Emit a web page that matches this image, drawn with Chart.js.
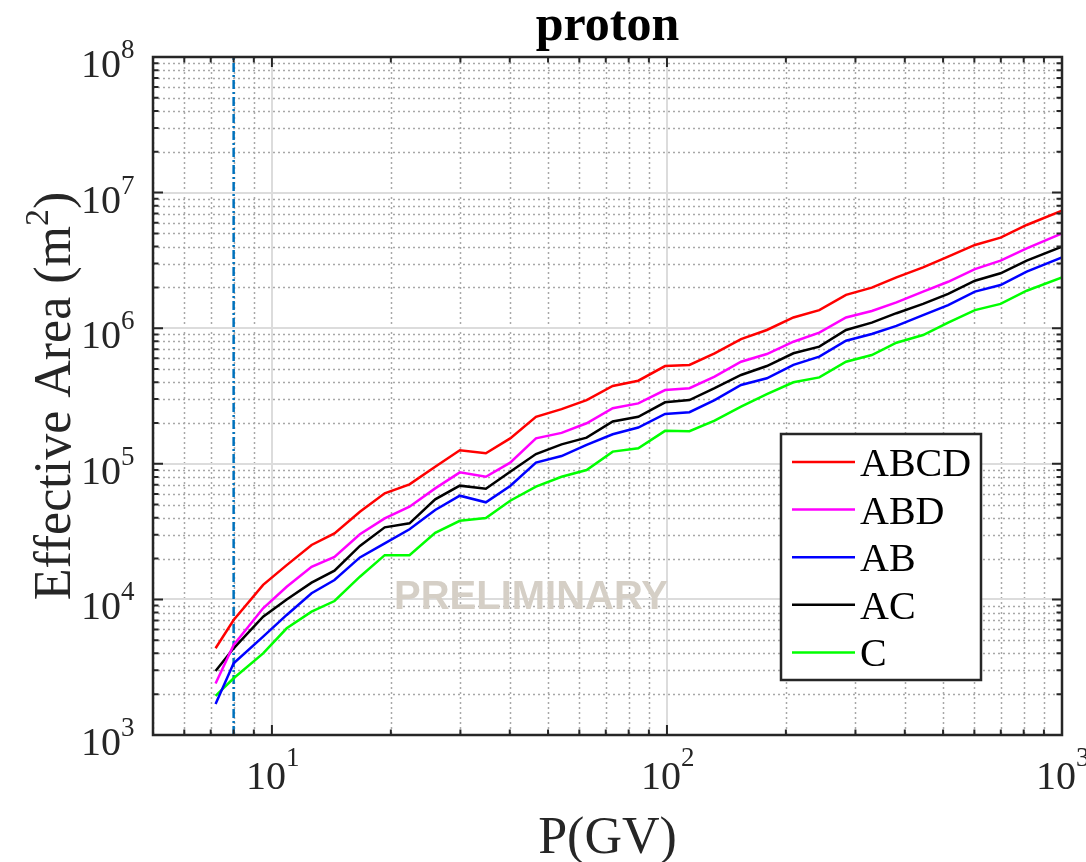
<!DOCTYPE html>
<html>
<head>
<meta charset="utf-8">
<script src="https://cdn.jsdelivr.net/npm/chart.js@4.4.1/dist/chart.umd.min.js"></script>
<style>
  html, body { margin: 0; padding: 0; background: #fff; }
  #wrap { width: 1086px; height: 862px; position: relative; }
</style>
</head>
<body>
<div id="wrap"><canvas id="effArea"></canvas></div>
<script>
// rigidity bins (GV)
const rigidity = [7.2, 8, 9.5, 10.9, 12.6, 14.4, 16.7, 19.3, 22.3, 25.9,
  29.9, 34.8, 40.1, 46.6, 54.1, 62.6, 72.9, 84.6, 98.9, 114,
  132, 154, 179, 209, 243, 284, 330, 381, 445, 515,
  602, 699, 814, 1000]

// effective area (m^2) per trigger combination
const areaABCD = [4360, 7050, 12800, 17900, 25200, 30700, 44300, 60600, 70600, 95200,
  126000, 119500, 154000, 222000, 253000, 295000, 375000, 410000, 526000, 536000,
  653000, 832000, 970000, 1200000, 1360000, 1760000, 1990000, 2370000, 2810000, 3370000,
  4110000, 4650000, 5770000, 7360000]
const areaABD = [2400, 4610, 8600, 12400, 17400, 20600, 30200, 39600, 48300, 65900,
  86500, 80300, 102000, 154000, 169000, 199000, 257000, 279000, 350000, 361000,
  439000, 566000, 645000, 795000, 927000, 1200000, 1340000, 1550000, 1860000, 2200000,
  2730000, 3150000, 3880000, 5010000]
const areaAB = [1690, 3380, 5310, 7680, 11100, 13900, 20400, 25900, 32900, 45600,
  58200, 52000, 68600, 102000, 114000, 138000, 165000, 185000, 233000, 240000,
  295000, 381000, 427000, 536000, 617000, 809000, 906000, 1040000, 1250000, 1480000,
  1860000, 2080000, 2610000, 3330000]
const areaAC = [2960, 4360, 7460, 10000, 13300, 16300, 24800, 34000, 36400, 54700,
  69000, 65500, 87500, 118000, 139000, 156000, 205000, 222000, 284000, 295000,
  361000, 452000, 526000, 653000, 731000, 970000, 1100000, 1290000, 1510000, 1790000,
  2240000, 2540000, 3150000, 3990000]
const areaC = [1940, 2620, 4000, 6120, 8120, 9730, 14700, 21200, 21200, 31000,
  38000, 39800, 53400, 67800, 80300, 90000, 123000, 130000, 175000, 174000,
  208000, 264000, 327000, 399000, 434000, 566000, 634000, 782000, 891000, 1100000,
  1360000, 1510000, 1890000, 2370000]

const seriesLabels = ['ABCD', 'ABD', 'AB', 'AC', 'C']
const seriesColors = ['#ff0000', '#ff00ff', '#0000ff', '#000000', '#00ff00']
const cutoffRigidity = 8

const xRange = [5, 1000]
const yRange = [1e3, 1e8]

const SERIF = '"Liberation Serif", "Times New Roman", serif'

const pts = ys => rigidity.map((x, i) => ({ x, y: ys[i] }))
const allSeries = [areaABCD, areaABD, areaAB, areaAC, areaC]

const datasets = allSeries.map((ys, i) => ({
  label: seriesLabels[i],
  data: pts(ys),
  borderColor: seriesColors[i],
  borderWidth: 2.5,
  pointRadius: 0,
  tension: 0,
  fill: false
}))
datasets.push({
  label: 'cutoff',
  data: [{ x: cutoffRigidity, y: yRange[0] }, { x: cutoffRigidity, y: yRange[1] }],
  borderColor: '#0072bd',
  borderDash: [9, 3, 2, 3],
  borderWidth: 2.5,
  pointRadius: 0,
  fill: false
})

// 1..9 x 10^n inside [min, max]
function logTicks(min, max) {
  const out = []
  for (let e = Math.floor(Math.log10(min)); e <= Math.ceil(Math.log10(max)); e++) {
    for (let m = 1; m <= 9; m++) {
      const v = m * Math.pow(10, e)
      if (v >= min * 0.999 && v <= max * 1.001) out.push({ v, major: m === 1, exp: e })
    }
  }
  return out
}

const matlabAxes = {
  id: 'matlabAxes',
  beforeDatasetsDraw(chart) {
    const { ctx, chartArea: a, scales: { x, y } } = chart
    const xt = logTicks(x.min, x.max), yt = logTicks(y.min, y.max)
    ctx.save()
    // minor dotted grid
    ctx.lineWidth = 1.5
    ctx.strokeStyle = '#a8a8a8'
    ctx.setLineDash([2, 3])
    ctx.beginPath()
    xt.filter(t => !t.major).forEach(t => {
      const px = Math.round(x.getPixelForValue(t.v)) + 0.5
      ctx.moveTo(px, a.top); ctx.lineTo(px, a.bottom)
    })
    yt.filter(t => !t.major).forEach(t => {
      const py = Math.round(y.getPixelForValue(t.v)) + 0.5
      ctx.moveTo(a.left, py); ctx.lineTo(a.right, py)
    })
    ctx.stroke()
    // major solid grid
    ctx.setLineDash([])
    ctx.lineWidth = 2
    ctx.strokeStyle = '#dcdcdc'
    ctx.beginPath()
    xt.filter(t => t.major).forEach(t => {
      const px = Math.round(x.getPixelForValue(t.v))
      ctx.moveTo(px, a.top); ctx.lineTo(px, a.bottom)
    })
    yt.filter(t => t.major).forEach(t => {
      const py = Math.round(y.getPixelForValue(t.v))
      ctx.moveTo(a.left, py); ctx.lineTo(a.right, py)
    })
    ctx.stroke()
    ctx.restore()
  },
  afterDatasetsDraw(chart) {
    const { ctx } = chart
    ctx.save()
    ctx.font = 'bold 40px "Liberation Sans", Arial, sans-serif'
    ctx.fillStyle = '#d5cfc6'
    ctx.textAlign = 'center'
    ctx.textBaseline = 'middle'
    ctx.fillText('PRELIMINARY', 531, 598)
    ctx.restore()
  },
  afterDraw(chart) {
    const { ctx, chartArea: a, scales: { x, y } } = chart
    const xt = logTicks(x.min, x.max), yt = logTicks(y.min, y.max)
    ctx.save()
    // box + inward ticks on all sides
    ctx.strokeStyle = '#262626'
    ctx.lineWidth = 2.5
    ctx.strokeRect(a.left, a.top, a.right - a.left, a.bottom - a.top)
    ctx.lineWidth = 2
    ctx.beginPath()
    xt.forEach(t => {
      const px = x.getPixelForValue(t.v), len = t.major ? 10 : 5.5
      ctx.moveTo(px, a.bottom); ctx.lineTo(px, a.bottom - len)
      ctx.moveTo(px, a.top); ctx.lineTo(px, a.top + len)
    })
    yt.forEach(t => {
      const py = y.getPixelForValue(t.v), len = t.major ? 10 : 5.5
      ctx.moveTo(a.left, py); ctx.lineTo(a.left + len, py)
      ctx.moveTo(a.right, py); ctx.lineTo(a.right - len, py)
    })
    ctx.stroke()

    // tick labels 10^n
    ctx.fillStyle = '#262626'
    yt.filter(t => t.major).forEach(t => {
      const py = y.getPixelForValue(t.v)
      ctx.font = '40px ' + SERIF
      ctx.textAlign = 'right'
      ctx.fillText('10', 121, py + 20)
      ctx.font = '27px ' + SERIF
      ctx.textAlign = 'left'
      ctx.fillText(String(t.exp), 121, py + 1)
    })
    xt.filter(t => t.major).forEach(t => {
      const px = x.getPixelForValue(t.v)
      ctx.font = '40px ' + SERIF
      ctx.textAlign = 'right'
      ctx.fillText('10', px + 14, 789)
      ctx.font = '27px ' + SERIF
      ctx.textAlign = 'left'
      ctx.fillText(String(t.exp), px + 14, 766)
    })

    // titles
    ctx.fillStyle = '#000'
    ctx.textAlign = 'center'
    ctx.font = 'bold 50px ' + SERIF
    ctx.fillText('proton', (a.left + a.right) / 2, 40)
    ctx.fillStyle = '#262626'
    ctx.font = '52px ' + SERIF
    ctx.fillText('P(GV)', (a.left + a.right) / 2, 853)

    // y title with superscript
    ctx.save()
    ctx.translate(70, (a.top + a.bottom) / 2)
    ctx.rotate(-Math.PI / 2)
    ctx.textAlign = 'left'
    const t1 = 'Effective Area (m', t2 = '2', t3 = ')'
    ctx.font = '52px ' + SERIF
    const w1 = ctx.measureText(t1).width, w3 = ctx.measureText(t3).width
    ctx.font = '34px ' + SERIF
    const w2 = ctx.measureText(t2).width
    const sx = -(w1 + w2 + w3) / 2
    ctx.font = '52px ' + SERIF
    ctx.fillText(t1, sx, 0)
    ctx.font = '34px ' + SERIF
    ctx.fillText(t2, sx + w1, -22)
    ctx.font = '52px ' + SERIF
    ctx.fillText(t3, sx + w1 + w2, 0)
    ctx.restore()

    // legend box
    const lx = 781, ly = 434, lw = 200, lh = 246
    ctx.fillStyle = '#fff'
    ctx.fillRect(lx, ly, lw, lh)
    ctx.strokeStyle = '#262626'
    ctx.lineWidth = 2.5
    ctx.strokeRect(lx, ly, lw, lh)
    ctx.font = '40px ' + SERIF
    ctx.textAlign = 'left'
    chart.data.datasets.slice(0, seriesLabels.length).forEach((ds, i) => {
      const ry = 462 + i * 47.6
      ctx.strokeStyle = ds.borderColor
      ctx.lineWidth = 2.5
      ctx.beginPath()
      ctx.moveTo(792, ry); ctx.lineTo(855, ry)
      ctx.stroke()
      ctx.fillStyle = '#000'
      ctx.fillText(ds.label, 860, ry + 14)
    })
    ctx.restore()
  }
}

new Chart(document.getElementById('effArea'), {
  type: 'line',
  data: { datasets },
  options: {
    responsive: true,
    maintainAspectRatio: false,
    animation: false,
    layout: { padding: { left: 153, right: 24, top: 57, bottom: 127 } },
    plugins: { legend: { display: false }, tooltip: { enabled: false } },
    scales: {
      x: {
        type: 'logarithmic', min: xRange[0], max: xRange[1],
        ticks: { display: false }, grid: { display: false }, border: { display: false },
        afterFit: s => { s.height = 0 }
      },
      y: {
        type: 'logarithmic', min: yRange[0], max: yRange[1],
        ticks: { display: false }, grid: { display: false }, border: { display: false },
        afterFit: s => { s.width = 0 }
      }
    }
  },
  plugins: [matlabAxes]
})
</script>
</body>
</html>
